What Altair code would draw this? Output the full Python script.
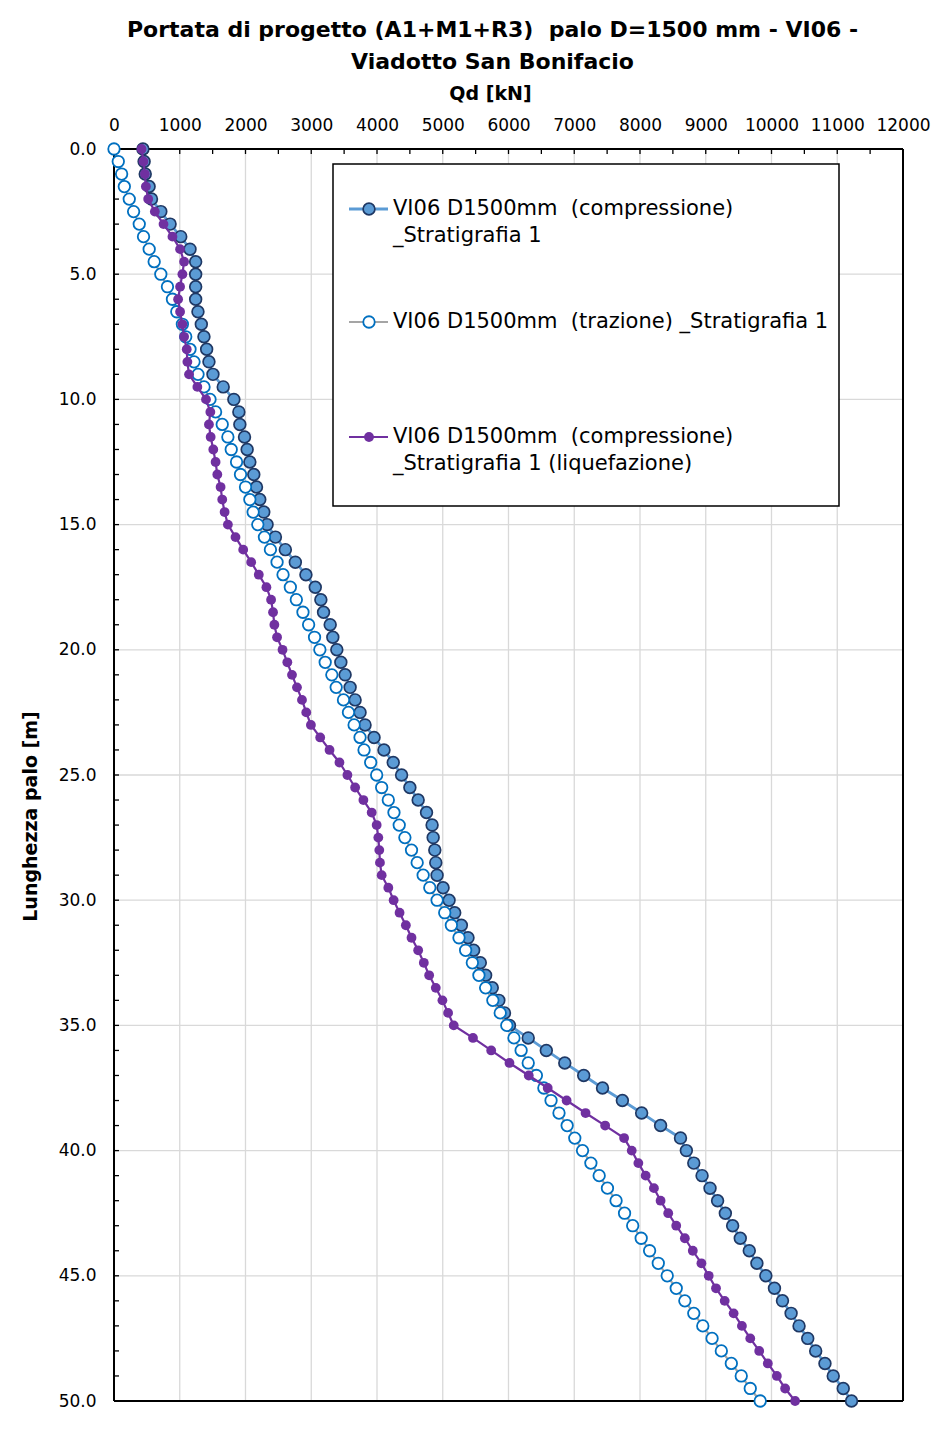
import altair as alt
import pandas as pd

# ---------------- data ----------------
depth = [i * 0.5 for i in range(101)]  # pile length grid 0.0 ... 50.0 m

comp = [440, 458, 475, 534, 570, 712, 853, 1015, 1156, 1242,
        1242, 1242, 1242, 1277, 1328, 1368, 1409, 1444, 1505, 1661,
        1823, 1899, 1914, 1985, 2025, 2066, 2126, 2167, 2217, 2278,
        2328, 2455, 2606, 2758, 2919, 3061, 3146, 3187, 3288, 3328,
        3389, 3450, 3515, 3591, 3667, 3742, 3818, 3955, 4106, 4247,
        4374, 4500, 4626, 4753, 4838, 4854, 4879, 4894, 4914, 5005,
        5096, 5182, 5283, 5384, 5470, 5571, 5652, 5753, 5853, 5939,
        6015, 6300, 6575, 6856, 7144, 7430, 7732, 8025, 8313, 8616,
        8705, 8818, 8944, 9065, 9180, 9298, 9409, 9525, 9662, 9778,
        9914, 10045, 10167, 10298, 10419, 10551, 10672, 10813, 10939, 11091,
        11217]

traz = [0, 65, 116, 157, 232, 298, 384, 449, 535, 611,
        712, 813, 889, 955, 1040, 1091, 1156, 1217, 1278, 1369,
        1460, 1545, 1646, 1732, 1783, 1864, 1924, 2000, 2066, 2116,
        2187, 2288, 2379, 2480, 2571, 2682, 2773, 2874, 2960, 3050,
        3131, 3212, 3313, 3379, 3490, 3566, 3652, 3742, 3803, 3904,
        3995, 4071, 4172, 4258, 4338, 4424, 4525, 4611, 4702, 4803,
        4914, 5030, 5131, 5247, 5348, 5450, 5550, 5652, 5762, 5874,
        5974, 6083, 6192, 6300, 6424, 6538, 6647, 6768, 6892, 7008,
        7126, 7253, 7379, 7505, 7636, 7765, 7889, 8018, 8146, 8278,
        8414, 8551, 8682, 8818, 8955, 9096, 9237, 9389, 9540, 9677,
        9828]

liq = [420, 449, 470, 485, 520, 621, 753, 889, 1005, 1066,
       1040, 1005, 975, 1005, 1040, 1066, 1106, 1116, 1141, 1268,
       1399, 1465, 1444, 1470, 1510, 1545, 1571, 1621, 1646, 1682,
       1732, 1848, 1965, 2086, 2202, 2318, 2389, 2419, 2439, 2480,
       2563, 2636, 2707, 2783, 2859, 2924, 2995, 3136, 3278, 3429,
       3550, 3667, 3793, 3919, 3995, 4020, 4035, 4045, 4071, 4172,
       4253, 4343, 4439, 4525, 4626, 4712, 4793, 4894, 4995, 5081,
       5167, 5460, 5737, 6015, 6308, 6596, 6884, 7172, 7470, 7758,
       7874, 7975, 8086, 8212, 8313, 8429, 8551, 8682, 8803, 8934,
       9045, 9156, 9288, 9424, 9550, 9677, 9813, 9944, 10081, 10207,
       10359]

x_labels = list(range(0, 12001, 1000))
y_labels = [0, 5, 10, 15, 20, 25, 30, 35, 40, 45, 50]
x_minor = list(range(0, 12001, 500))
y_minor = list(range(0, 51))
x_grid = list(range(1000, 12000, 1000))
y_grid = [5, 10, 15, 20, 25, 30, 35, 40, 45]

title_lines = ["Portata di progetto (A1+M1+R3) \u00a0palo D=1500 mm - VI06 -",
               "Viadotto San Bonifacio"]
x_title = "Qd [kN]"
y_title = "Lunghezza palo [m]"
legend_labels = [
    ["VI06 D1500mm \u00a0(compressione)", "_Stratigrafia 1"],
    ["VI06 D1500mm \u00a0(trazione) _Stratigrafia 1"],
    ["VI06 D1500mm \u00a0(compressione)", "_Stratigrafia 1 (liquefazione)"],
]

# ---------------- style ----------------
FONT = "DejaVu Sans"
W, H = 789, 1252
GRID = "#D9D9D9"

styles = [
    dict(line="#5B9BD5", lw=2.8, fill="#5B9BD5", stroke="#1F3864", sw=1.7, size=138),
    dict(line="#A5A5A5", lw=2.2, fill="#FFFFFF", stroke="#0070C0", sw=1.8, size=132),
    dict(line="#7030A0", lw=2.2, fill="#7030A0", stroke="#7030A0", sw=0.0, size=96),
]

xscale = alt.Scale(domain=[0, 12000], nice=False, zero=False)
yscale = alt.Scale(domain=[0, 50], nice=False, zero=False, reverse=True)

x_axis = alt.Axis(orient="top", values=x_labels, format="d", title=x_title, grid=False,
                  domain=False, ticks=False, tickSize=0,
                  labelFont=FONT, labelFontSize=17, labelColor="#000000",
                  labelBaseline="middle", labelPadding=24, labelFlush=False,
                  labelOverlap=False,
                  titleFont=FONT, titleFontSize=19, titleFontWeight="bold",
                  titleColor="#000000", titleX=376, titleY=-56,
                  titleAlign="center", titleBaseline="middle")
y_axis = alt.Axis(orient="left", values=y_labels, format=".1f", title=y_title,
                  grid=False, domain=False, ticks=False, tickSize=0,
                  labelFont=FONT, labelFontSize=17, labelColor="#000000",
                  labelAlign="right", labelBaseline="middle", labelPadding=18,
                  labelFlush=False, labelOverlap=False,
                  titleFont=FONT, titleFontSize=19, titleFontWeight="bold",
                  titleColor="#000000", titleX=-84, titleY=667, titleAngle=270,
                  titleAlign="center", titleBaseline="middle")

one = pd.DataFrame({"k": [0]})
layers = []

# grid lines
layers.append(alt.Chart(pd.DataFrame({"g": x_grid})).mark_rule(color=GRID, strokeWidth=1.3)
              .encode(x=alt.X("g:Q", scale=xscale, axis=x_axis), y=alt.value(0), y2=alt.value(H)))
layers.append(alt.Chart(pd.DataFrame({"g": y_grid})).mark_rule(color=GRID, strokeWidth=1.3)
              .encode(y=alt.Y("g:Q", scale=yscale, axis=y_axis), x=alt.value(0), x2=alt.value(W)))

# plot border
for enc in [dict(x=alt.value(0), x2=alt.value(W), y=alt.value(0)),
            dict(x=alt.value(0), x2=alt.value(W), y=alt.value(H)),
            dict(x=alt.value(0), y=alt.value(0), y2=alt.value(H)),
            dict(x=alt.value(W), y=alt.value(0), y2=alt.value(H))]:
    layers.append(alt.Chart(one).mark_rule(color="black", strokeWidth=2).encode(**enc))

# inside ticks
layers.append(alt.Chart(pd.DataFrame({"t": x_minor})).mark_rule(color="black", strokeWidth=1.3)
              .encode(x=alt.X("t:Q", scale=xscale, axis=x_axis), y=alt.value(0), y2=alt.value(5)))
layers.append(alt.Chart(pd.DataFrame({"t": y_minor})).mark_rule(color="black", strokeWidth=1.3)
              .encode(y=alt.Y("t:Q", scale=yscale, axis=y_axis), x=alt.value(0), x2=alt.value(5)))

# series
for vals, st in zip([comp, traz, liq], styles):
    df = pd.DataFrame({"depth": depth, "qd": vals})
    base = alt.Chart(df).encode(
        x=alt.X("qd:Q", scale=xscale, axis=x_axis),
        y=alt.Y("depth:Q", scale=yscale, axis=y_axis),
        order=alt.Order("depth:Q"),
    )
    layers.append(base.mark_line(color=st["line"], strokeWidth=st["lw"]))
    layers.append(base.mark_circle(size=st["size"], fill=st["fill"], stroke=st["stroke"],
                                   strokeWidth=st["sw"], opacity=1, fillOpacity=1,
                                   strokeOpacity=1))

# legend (drawn manually to reproduce line+marker symbols)
LX0, LX1, LY0, LY1 = 219, 725, 15, 357
layers.append(alt.Chart(one).mark_rect(fill="white", stroke="black", strokeWidth=1.5)
              .encode(x=alt.value(LX0), x2=alt.value(LX1), y=alt.value(LY0), y2=alt.value(LY1)))
row_y = [60, 173, 288]
line_gap = 27
for labels, st, yc in zip(legend_labels, styles, row_y):
    layers.append(alt.Chart(one).mark_rule(color=st["line"], strokeWidth=st["lw"])
                  .encode(x=alt.value(235), x2=alt.value(274), y=alt.value(yc)))
    layers.append(alt.Chart(one).mark_circle(size=st["size"], fill=st["fill"], stroke=st["stroke"],
                                             strokeWidth=st["sw"], opacity=1)
                  .encode(x=alt.value(255), y=alt.value(yc)))
    for j, txt in enumerate(labels):
        layers.append(alt.Chart(one).mark_text(align="left", baseline="middle", font=FONT,
                                               fontSize=21, color="#000000")
                      .encode(x=alt.value(279), y=alt.value(yc + j * line_gap),
                              text=alt.value(txt)))

chart = alt.layer(*layers).properties(
    width=W, height=H,
    padding={"left": 114, "top": 149, "right": 48, "bottom": 28},
    autosize=alt.AutoSizeParams(type="none"),
    title=alt.TitleParams(text=title_lines, font=FONT, fontSize=22, fontWeight="bold",
                          color="#000000", anchor="middle", dx=-16, offset=10,
                          lineHeight=32),
    background="white",
).configure_view(stroke="transparent")

chart.save("out.html", embed_options={"renderer": "svg", "actions": False})
